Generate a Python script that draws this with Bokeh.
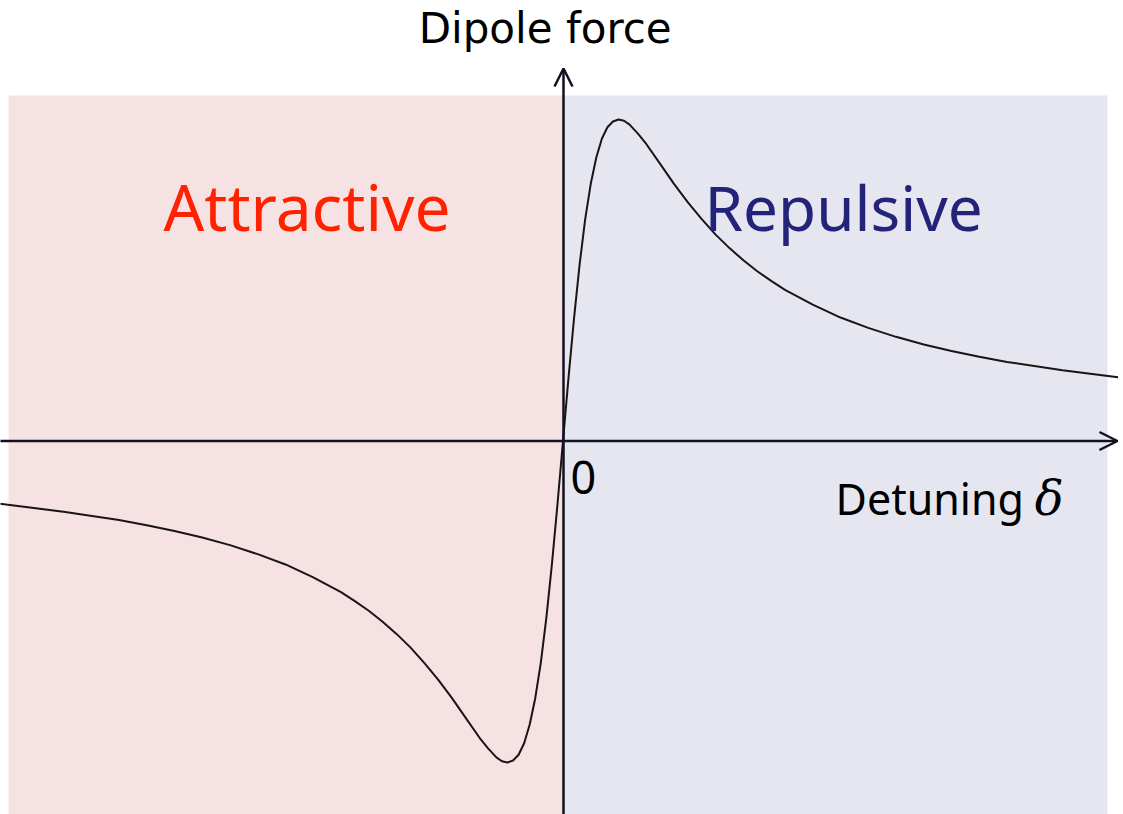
from bokeh.plotting import figure
from bokeh.models import Range1d, Arrow, OpenHead, ColumnDataSource
from bokeh.core.properties import value
from bokeh.embed import file_html
from bokeh.resources import INLINE

# Detuning (in units of linewidth) and dipole force (arbitrary units)
detuning = [-10.2, -9.0, -8.0, -7.5, -7.0, -6.5, -6.0, -5.5, -5.0, -4.5, -4.0, -3.75, -3.5,
            -3.25, -3.0, -2.75, -2.5, -2.25, -2.0,
            -1.75, -1.5, -1.35, -1.2, -1.1, -1.0, -0.9, -0.8, -0.7, -0.6, -0.5, -0.4, -0.3,
            -0.2, -0.1, 0.0, 0.1, 0.2, 0.3, 0.4, 0.5, 0.6, 0.7, 0.8, 0.9, 1.0, 1.1, 1.2,
            1.35, 1.5, 1.75, 2.0, 2.25, 2.5, 2.75, 3.0, 3.25, 3.5, 3.75, 4.0, 4.5, 5.0,
            5.5, 6.0, 6.5, 7.0, 7.5, 8.0, 9.0, 10.0]
force = [-0.097, -0.110, -0.123, -0.131, -0.140, -0.150, -0.162, -0.176, -0.192, -0.212,
         -0.235, -0.249, -0.264, -0.281, -0.300, -0.321, -0.345, -0.371, -0.400,
         -0.431, -0.462, -0.478, -0.492, -0.498, -0.500, -0.497,
         -0.488, -0.470, -0.441, -0.400, -0.345, -0.275, -0.192, -0.099, 0.000, 0.099,
         0.192, 0.275, 0.345, 0.400, 0.441, 0.470, 0.488, 0.497, 0.500, 0.498, 0.492,
         0.478, 0.462, 0.431, 0.400, 0.371, 0.345, 0.321, 0.300, 0.281, 0.264, 0.249,
         0.235, 0.212, 0.192, 0.176, 0.162, 0.150, 0.140, 0.131, 0.123, 0.110, 0.099]

region_labels = ["Attractive", "Repulsive"]
axis_title_y = "Dipole force"
axis_title_x = "Detuning"
zero_label = "0"

W, H = 1123, 814
p = figure(width=W, height=H, output_backend="svg", toolbar_location=None,
           x_range=Range1d(-10.135, 10.099), y_range=Range1d(-0.5809, 0.6851),
           x_axis_type=None, y_axis_type=None, min_border=0)
p.outline_line_color = None
p.grid.visible = False
p.background_fill_color = "white"
p.border_fill_color = "white"

# background regions
p.quad(left=[-9.99, 0.009], right=[0.009, 9.811], top=[0.5373, 0.5373],
       bottom=[-0.7, -0.7], fill_color=["#F6E2E2", "#E6E6F0"], line_color=None)

# curve
src = ColumnDataSource(dict(x=detuning, y=force))
p.line("x", "y", source=src, line_color="#1a1414", line_width=2, line_join="round")

# axes with arrows
ax_col = "#111122"
p.add_layout(Arrow(end=OpenHead(size=18, line_width=2.5, line_color=ax_col),
                   x_start=-10.3, y_start=0, x_end=9.99, y_end=0,
                   line_width=2.5, line_color=ax_col))
p.add_layout(Arrow(end=OpenHead(size=18, line_width=2.5, line_color=ax_col),
                   x_start=0.009, y_start=-0.7, x_end=0.009, y_end=0.5793,
                   line_width=2.5, line_color=ax_col))

font = value("Noto Sans")
p.text(x=[-2.60], y=[0.6415], text=[axis_title_y], text_font=value("DejaVu Sans"),
       text_font_size="42px", text_color="#000000", text_baseline="alphabetic")
p.text(x=[-7.20], y=[0.3647], text=[region_labels[0]], text_font=font,
       text_font_size="64px", text_color="#FF2200", text_baseline="alphabetic")
p.text(x=[2.55], y=[0.3647], text=[region_labels[1]], text_font=font,
       text_font_size="62px", text_color="#23237A", text_baseline="alphabetic")
p.text(x=[0.135], y=[-0.0568], text=[zero_label], text_font=font,
       text_font_size="45px", text_color="#000000", text_baseline="alphabetic")
p.text(x=[4.91], y=[-0.0895], text=[axis_title_x], text_font=font,
       text_font_size="43px", text_color="#000000", text_baseline="alphabetic")
p.text(x=[8.50], y=[-0.088], text=["\u03b4"], text_font=value("DejaVu Serif"),
       text_font_style="italic", text_font_size="48px", text_color="#000000",
       text_baseline="alphabetic")

open("out.html", "w").write(file_html(p, INLINE))
